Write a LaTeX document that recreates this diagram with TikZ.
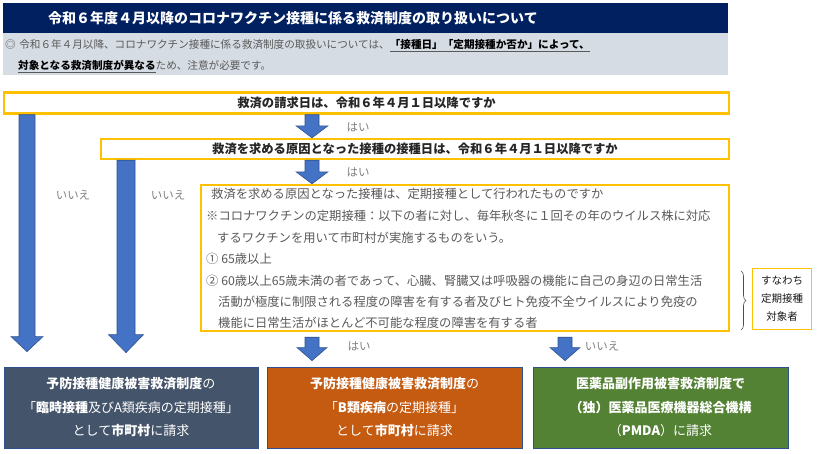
\documentclass[tikz,border=0pt]{standalone}
\usepackage{fontspec}
\setmainfont{Noto Sans CJK JP}
\usetikzlibrary{positioning,calc}
\usetikzlibrary{decorations.pathreplacing}
\definecolor{titleNavy}{HTML}{002060}
\definecolor{noteGray}{HTML}{D6DCE4}
\definecolor{askYellow}{HTML}{FFC000}
\definecolor{arrowBlue}{HTML}{4472C4}
\definecolor{arrowEdge}{HTML}{2F528F}
\definecolor{cityColor}{HTML}{44546A}
\definecolor{typeBColor}{HTML}{C55A11}
\definecolor{pmdaColor}{HTML}{548235}
\colorlet{plainText}{black!65}
\colorlet{answerText}{black!50}

% block arrow: start, tip, shaft half width, head half width, head length
\newcommand{\blockarrow}[5]{%
  \filldraw[blockarrow] let \p1=(#1), \p2=(#2) in
    (\x1-#3,\y1) -- (\x1+#3,\y1) -- (\x1+#3,\y2+#5) -- (\x1+#4,\y2+#5)
    -- (\x1,\y2) -- (\x1-#4,\y2+#5) -- (\x1-#3,\y2+#5) -- cycle;}

\begin{document}
\begin{tikzpicture}[x=1pt, y=-1pt,
    askbox/.style={draw=askYellow, line width=2.4pt, inner sep=0pt},
    asktext/.style={font=\fontsize{12.3}{14}\selectfont\bfseries, text=black!85},
    qtext/.style={font=\fontsize{12.3}{14}\selectfont, text=plainText, inner sep=0pt},
    answer/.style={text=answerText, font=\fontsize{11.5}{13}\selectfont, inner sep=0pt},
    result/.style={draw=arrowEdge, line width=0.8pt, text=white, align=center,
      minimum width=254pt, minimum height=81pt, inner sep=0pt,
      font=\fontsize{13}{23.5}\selectfont},
    blockarrow/.style={fill=arrowBlue, draw=arrowEdge, line width=0.6pt}
  ]
  \useasboundingbox (0,0) rectangle (817,453);

  % header
  \node[fill=titleNavy, anchor=north west, minimum height=30pt, text width=635pt,
    inner xsep=45pt, inner ysep=0pt, align=left, text=white,
    font=\fontsize{14}{16}\selectfont\bfseries] (title) at (3,3)
    {令和６年度４月以降のコロナワクチン接種に係る救済制度の取り扱いについて};
  \node[fill=noteGray, anchor=north west, minimum height=42pt, text width=721pt,
    inner xsep=2pt, inner ysep=0pt, align=left, text=plainText,
    font=\fontsize{10.6}{21}\selectfont] (note) at (3,33)
    {\rule{0pt}{12.5pt}◎ 令和６年４月以降、コロナワクチン接種に係る救済制度の取扱いについては、\underline{\textcolor{black}{\bfseries「接種日」「定期接種か否か」によって、}}\\
     \hspace*{13pt}\underline{\textcolor{black}{\bfseries 対象となる救済制度が異なる}}ため、注意が必要です。};

  % questions
  \node[askbox, minimum width=725pt, minimum height=21pt, asktext] (q1) at (366.5,103)
    {救済の請求日は、令和６年４月１日以降ですか};
  \node[askbox, minimum width=628pt, minimum height=20pt, asktext] (q2) at (415,149)
    {救済を求める原因となった接種の接種日は、令和６年４月１日以降ですか};
  \node[askbox, minimum width=528pt, minimum height=146pt] (q3) at (465,258) {};
  \foreach \yy/\xx/\txt [count=\n] in {
      198.5/211/{救済を求める原因となった接種は、定期接種として行われたものですか},
      220.5/206/{※コロナワクチンの定期接種：以下の者に対し、毎年秋冬に１回その年のウイルス株に対応},
      242.5/217/{するワクチンを用いて市町村が実施するものをいう。},
      263.5/206/{① 65歳以上},
      285.5/206/{② 60歳以上65歳未満の者であって、心臓、腎臓又は呼吸器の機能に自己の身辺の日常生活},
      306.5/218/{活動が極度に制限される程度の障害を有する者及びヒト免疫不全ウイルスにより免疫の},
      327.5/218/{機能に日常生活がほとんど不可能な程度の障害を有する者}}
    \node[qtext, anchor=base west] (q3line\n) at (\xx,\yy) {\txt};

  % target group
  \node[draw=askYellow, line width=1.4pt, minimum width=59pt, minimum height=61pt,
    align=center, inner sep=0pt, text=black!90,
    font=\fontsize{10.5}{18}\selectfont] (target) at (782,299)
    {すなわち\\定期接種\\対象者};
  \draw[decorate, decoration={brace, amplitude=5pt}, draw=black!70, line width=0.6pt]
    (741,271) -- (741,330);

  % results
  \node[result, fill=cityColor] (r1) at (131,407.5)
    {\textbf{予防接種健康被害救済制度}の\\「\textbf{臨時接種}及びA類疾病の定期接種」\\として\textbf{市町村}に請求};
  \node[result, fill=typeBColor, minimum width=255pt] (r2) at (394.5,407.5)
    {\textbf{予防接種健康被害救済制度}の\\「\textbf{B類疾病}の定期接種」\\として\textbf{市町村}に請求};
  \node[result, fill=pmdaColor, minimum width=255pt] (r3) at (660.5,407.5)
    {\textbf{医薬品副作用被害救済制度で}\\\textbf{（独）医薬品医療機器総合機構}\\（\textbf{PMDA}）に請求};

  % arrow columns
  \coordinate (colL1) at (27,0);
  \coordinate (colL2) at (126,0);
  \coordinate (colA) at (312,0);
  \coordinate (colB) at (565,0);

  \blockarrow{q1.south -| colA}{q2.north -| colA}{7pt}{16pt}{12pt}
  \blockarrow{q2.south -| colA}{q3.north -| colA}{7pt}{16pt}{12pt}
  \blockarrow{q1.south -| colL1}{[yshift=15pt]r1.north -| colL1}{8pt}{16pt}{15pt}
  \blockarrow{q2.south -| colL2}{[yshift=14pt]r1.north -| colL2}{9pt}{17.5pt}{18pt}
  \blockarrow{[yshift=-5pt]q3.south -| colA}{[yshift=6pt]r2.north -| colA}{7pt}{15pt}{13pt}
  \blockarrow{[yshift=-5pt]q3.south -| colB}{[yshift=6pt]r3.north -| colB}{7pt}{15pt}{13pt}

  % answers
  \node[answer] (yes1) at (358,127) {はい};
  \node[answer] (yes2) at (358,172) {はい};
  \node[answer] (no1) at (73,195) {いいえ};
  \node[answer] (no2) at (168,195) {いいえ};
  \node[answer] (yes3) at (359,346) {はい};
  \node[answer] (no3) at (602,346) {いいえ};
\end{tikzpicture}
\end{document}
